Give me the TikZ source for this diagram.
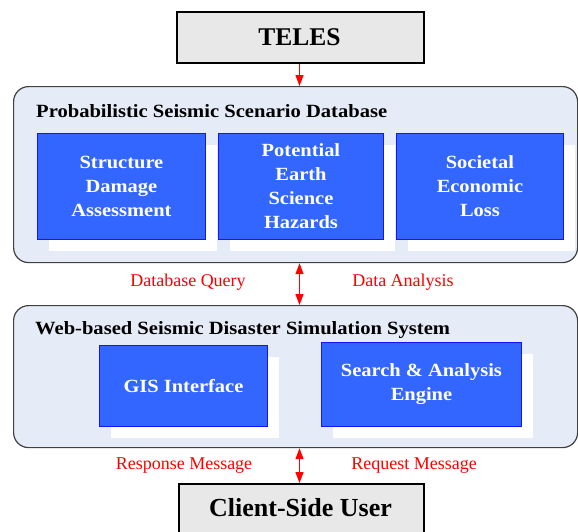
\documentclass[tikz,border=0pt]{standalone}
\usepackage{fontspec}
\setmainfont{Liberation Serif}
\newfontfamily\widefont{Liberation Serif}[FakeStretch=1.1]
\usetikzlibrary{shadows,arrows.meta}

\definecolor{panelfill}{RGB}{230,236,247}
\definecolor{boxblue}{RGB}{51,102,255}
\definecolor{boxedge}{RGB}{20,20,255}
\definecolor{greyfill}{RGB}{232,232,232}

\begin{document}
\begin{tikzpicture}[x=1pt,y=-1pt]
    \tikzstyle{panel}=[draw=black!75,line width=1.2pt,fill=panelfill,rounded corners=15pt,anchor=north west,minimum width=564pt,inner sep=0pt]
    \tikzstyle{panel title}=[anchor=base west,inner sep=0pt,font=\widefont\bfseries\fontsize{18.7}{22}\selectfont]
    \tikzstyle{module}=[draw=boxedge,line width=0.9pt,fill=boxblue,text=white,anchor=north west,inner sep=0pt,align=center,
        font=\widefont\bfseries\fontsize{18.6}{24}\selectfont,
        drop shadow={shadow xshift=12pt,shadow yshift=-12pt,fill=white,opacity=1}]
    \tikzstyle{endpoint}=[draw=black,line width=1.5pt,fill=greyfill,anchor=north west,inner sep=0pt,font=\bfseries\fontsize{25.5}{28}\selectfont]
    \tikzstyle{msg}=[text=red,inner sep=0pt,font=\fontsize{18}{20}\selectfont]
    \tikzstyle{link}=[red,line width=1.2pt,-{Triangle[width=8pt,length=11pt]}]
    \tikzstyle{both link}=[red,line width=1.2pt,{Triangle[width=8pt,length=11pt]}-{Triangle[width=8pt,length=11pt]}]

    \useasboundingbox (0,0) rectangle (578,531);
    \clip (0,0) rectangle (578,531);

    % Top and bottom end points
    \node[endpoint,minimum width=247pt,minimum height=51pt] (teles) at (176,11) {};
    \node[anchor=base,inner sep=0pt,font=\bfseries\fontsize{25.5}{28}\selectfont] (telestext) at (299.5,45) {TELES};
    \node[endpoint,minimum width=245pt,minimum height=70pt] (user) at (178,483) {};
    \node[anchor=base,inner sep=0pt,font=\bfseries\fontsize{26}{28}\selectfont] (usertext) at (300.5,516) {Client-Side User};

    % Scenario database panel
    \node[panel,minimum height=176pt] (psdb) at (13,86) {};
    \node[panel title] (psdbtitle) at (36,117) {Probabilistic Seismic Scenario Database};
    \node[module,minimum width=168pt,minimum height=106pt] (sda) at (37,133) {Structure\\Damage\\Assessment};
    \node[module,minimum width=165pt,minimum height=106pt] (pesh) at (218,133) {Potential\\Earth\\Science\\Hazards};
    \node[module,minimum width=167pt,minimum height=106pt] (sel) at (396,133) {Societal\\Economic\\Loss};

    % Simulation system panel
    \node[panel,minimum height=142pt] (wsds) at (13,305) {};
    \node[panel title] (wsdstitle) at (35,334) {Web-based Seismic Disaster Simulation System};
    \node[module,minimum width=168pt,minimum height=81pt] (gis) at (99,345) {GIS Interface};
    \node[module,minimum width=200pt,minimum height=84pt] (sae) at (321,342) {Search \& Analysis\\Engine};

    % Message labels
    \node[msg] (query) at (188,282) {Database Query};
    \node[msg] (analysis) at (403,282) {Data Analysis};
    \node[msg] (response) at (184,466) {Response Message};
    \node[msg] (request) at (414,466) {Request Message};

    % Connections
    \draw[link] (teles.south -| telestext) -- (psdb.north -| telestext);
    \draw[both link] (psdb.south -| telestext) -- (wsds.north -| telestext);
    \draw[both link] (wsds.south -| telestext) -- (user.north -| telestext);
\end{tikzpicture}
\end{document}
